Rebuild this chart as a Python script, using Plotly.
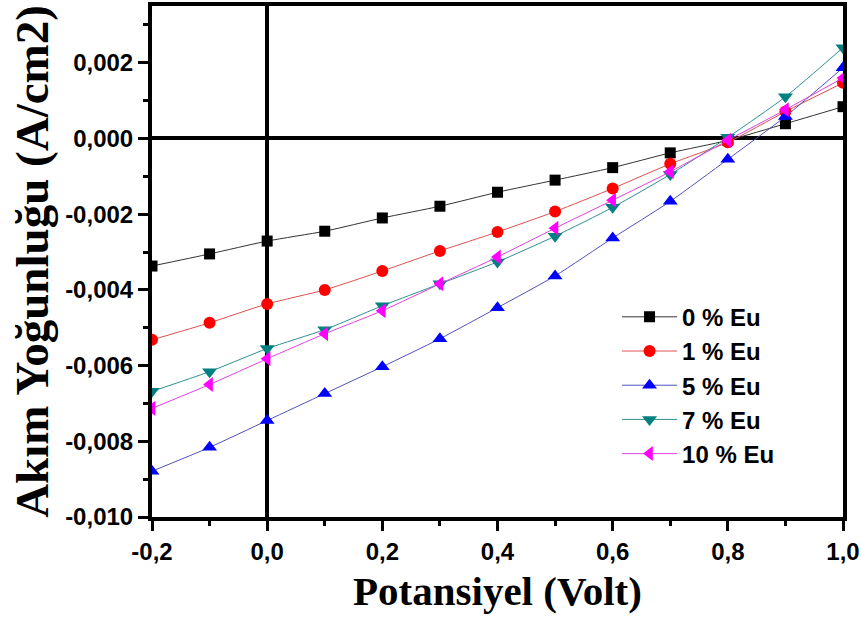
import plotly.graph_objects as go

# ---- data ----
voltage = [-0.2, -0.1, 0.0, 0.1, 0.2, 0.3, 0.4, 0.5, 0.6, 0.7, 0.8, 0.9, 1.0]

eu0 = [-0.00337, -0.00305, -0.00271, -0.00245, -0.00210, -0.00179, -0.00142,
       -0.00110, -0.00077, -0.00038, -0.00005, 0.00039, 0.00084]
eu1 = [-0.00532, -0.00487, -0.00437, -0.00400, -0.00350, -0.00297, -0.00247,
       -0.00193, -0.00132, -0.00067, -0.00010, 0.00071, 0.00147]
eu5 = [-0.00879, -0.00816, -0.00745, -0.00674, -0.00603, -0.00529, -0.00447,
       -0.00363, -0.00263, -0.00166, -0.00055, 0.00058, 0.00187]
eu7 = [-0.00668, -0.00616, -0.00555, -0.00505, -0.00442, -0.00384, -0.00326,
       -0.00258, -0.00182, -0.00095, 0.00003, 0.00110, 0.00240]
eu10 = [-0.00713, -0.00650, -0.00582, -0.00516, -0.00455, -0.00384, -0.00313,
        -0.00237, -0.00163, -0.00088, -0.00005, 0.00076, 0.00160]

series_names = ["0 % Eu", "1 % Eu", "5 % Eu", "7 % Eu", "10 % Eu"]
series_values = [eu0, eu1, eu5, eu7, eu10]

x_tickvals = [-0.2, 0.0, 0.2, 0.4, 0.6, 0.8, 1.0]
x_ticktext = ["-0,2", "0,0", "0,2", "0,4", "0,6", "0,8", "1,0"]
y_tickvals = [-0.010, -0.008, -0.006, -0.004, -0.002, 0.000, 0.002]
y_ticktext = ["-0,010", "-0,008", "-0,006", "-0,004", "-0,002", "0,000", "0,002"]

x_title = "Potansiyel (Volt)"
y_title = "Akım Yoğunluğu (A/cm2)"

# ---- styles ----
marker_colors = ["#000000", "#ff0000", "#0000ff", "#008080", "#ff00ff"]
line_colors = ["#333333", "#e05050", "#5050c0", "#309090", "#e040e0"]
symbols = ["square", "circle", "triangle-up", "triangle-down", "triangle-left"]
sizes = [11, 12, 13, 13, 13]

fig = go.Figure()
for name, vals, mc, lc, sym, sz in zip(series_names, series_values, marker_colors,
                                       line_colors, symbols, sizes):
    fig.add_trace(go.Scatter(
        x=voltage, y=vals, name=name, mode="lines+markers",
        line=dict(color=lc, width=1, shape="spline", smoothing=0.6),
        marker=dict(symbol=sym, size=sz, color=mc, line=dict(width=0)),
        cliponaxis=True,
    ))

tickfont = dict(family="Liberation Sans, Arial", size=24, color="black", weight="bold")
titlefont = dict(family="Liberation Serif, Times New Roman", color="black")

fig.update_layout(
    width=861, height=626,
    margin=dict(l=152, r=18, t=6, b=109, autoexpand=False),
    paper_bgcolor="white", plot_bgcolor="white",
    font=dict(family="Liberation Sans, Arial", color="black"),
    showlegend=True,
    legend=dict(
        x=0.673, y=0.435, xanchor="left", yanchor="top",
        bgcolor="rgba(0,0,0,0)", borderwidth=0,
        font=dict(family="Liberation Sans, Arial", size=24, color="black", weight="bold"),
        itemwidth=55,
    ),
    xaxis=dict(
        range=[-0.2, 1.0], tickmode="array", tickvals=x_tickvals, ticktext=x_ticktext,
        ticks="outside", ticklen=10, tickwidth=3, tickcolor="black",
        minor=dict(dtick=0.1, ticks="outside", ticklen=5, tickwidth=3, tickcolor="black"),
        showline=True, linewidth=4, linecolor="black", mirror=True,
        showgrid=False, zeroline=True, zerolinewidth=4, zerolinecolor="black",
        tickfont=tickfont, automargin=False,
        title=dict(text="<b>" + x_title + "</b>", font=dict(titlefont, size=41), standoff=14),
    ),
    yaxis=dict(
        range=[-0.010, 0.0035], tickmode="array", tickvals=y_tickvals, ticktext=y_ticktext,
        ticks="outside", ticklen=10, tickwidth=3, tickcolor="black",
        minor=dict(dtick=0.001, tick0=0, ticks="outside", ticklen=5, tickwidth=3, tickcolor="black"),
        showline=True, linewidth=4, linecolor="black", mirror=True,
        showgrid=False, zeroline=True, zerolinewidth=4, zerolinecolor="black",
        tickfont=tickfont, automargin=False,
        title=dict(text="<b>" + y_title + "</b>", font=dict(titlefont, size=47), standoff=3),
    ),
)

fig.write_html("out.html", config={"displayModeBar": False},
               post_script="document.body.style.margin='0';")
